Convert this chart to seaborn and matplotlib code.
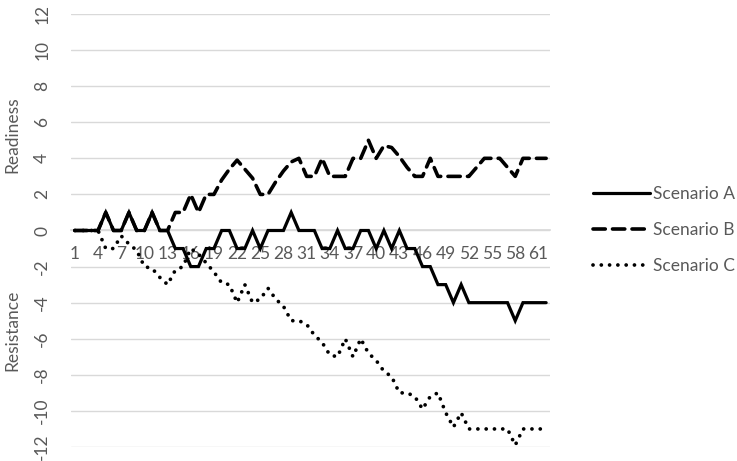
import matplotlib
matplotlib.use("Agg")
import matplotlib.pyplot as plt
import seaborn as sns
import numpy as np
import pandas as pd

# ── Data ──────────────────────────────────────────────────────────────────────
steps = list(range(1, 63))

scenario_a = [0, 0, 0, 0, 1, 0, 0, 1, 0, 0, 1, 0, 0,
              -1, -1, -2, -2, -1, -1, 0, 0, -1, -1, 0, -1,
              0, 0, 0, 1, 0, 0, 0, -1, -1, 0, -1, -1,
              0, 0, -1, 0, -1, 0, -1, -1, -2, -2, -3, -3, -4,
              -3, -4, -4, -4, -4, -4, -4, -5, -4, -4, -4, -4]

scenario_b = [0, 0, 0, 0, 1, 0, 0, 1, 0, 0, 1, 0, 0,
              1, 1, 2, 1, 2, 2, 2.8, 3.4, 3.9, 3.4, 2.9, 2,
              2, 2.7, 3.3, 3.8, 4, 3, 3, 4, 3, 3, 3, 4,
              4, 5, 4, 4.7, 4.6, 4.1, 3.5, 3, 3, 4, 3, 3, 3,
              3, 3, 3.5, 4, 4, 4, 3.5, 3, 4, 4, 4, 4]

scenario_c = [0, 0, 0, 0, -1, -1, -0.3, -0.75, -1.1, -2, -2.1, -2.6, -3,
              -2.2, -2, -1, -1.3, -1.8, -2.3, -2.9, -3, -4, -3, -4, -3.8,
              -3.2, -3.8, -4.2, -5, -5, -5.2, -5.8, -6.2, -6.9, -7, -6, -7,
              -6, -6.8, -7.2, -7.8, -8.1, -9, -9, -9.2, -9.9, -9.2, -9, -10.1, -10.9,
              -10.1, -11, -11, -11, -11, -11, -11, -11.9, -11, -11, -11, -11]

x_ticks = list(range(1, 62, 3))
y_ticks = list(range(-12, 13, 2))

# ── Style ─────────────────────────────────────────────────────────────────────
sns.set_theme(style="white")
plt.rcParams["font.family"] = ["Lato", "DejaVu Sans"]
text_grey = "#595959"
grid_grey = "#D9D9D9"
fs = 12.5

fig = plt.figure(figsize=(7.37, 4.61), dpi=100)
ax = fig.add_axes([71 / 737, 14 / 461, 479 / 737, 433 / 461])

lw = 2.3
sns.lineplot(x=steps, y=scenario_a, ax=ax, color="black", lw=lw,
             solid_joinstyle="miter", label="Scenario A")
sns.lineplot(x=steps, y=scenario_b, ax=ax, color="black", lw=lw + 0.3,
             linestyle=(0, (3.4, 2.0)), dash_capstyle="round",
             label="Scenario B")
sns.lineplot(x=steps, y=scenario_c, ax=ax, color="black", lw=2.7,
             linestyle=(0, (0.01, 2.2)), dash_capstyle="round",
             label="Scenario C")

ax.set_xlim(0.5, 62.5)
ax.set_ylim(-12, 12)
ax.set_yticks(y_ticks)
ax.set_xticks(x_ticks)
ax.set_xticklabels([str(t) for t in x_ticks])
ax.set_yticklabels([str(t) for t in y_ticks], rotation=90, va="center")

for s in ax.spines.values():
    s.set_visible(False)
ax.spines["bottom"].set_visible(True)
ax.spines["bottom"].set_position(("data", 0))
ax.spines["bottom"].set_color(grid_grey)
ax.spines["bottom"].set_zorder(0)

ax.yaxis.grid(True, color=grid_grey, lw=1)
ax.set_axisbelow(True)
ax.tick_params(axis="x", length=0, pad=11, labelsize=fs, colors=text_grey)
ax.tick_params(axis="y", length=0, pad=15, labelsize=fs, colors=text_grey)
ax.set_xlabel("")
ax.set_ylabel("")

fig.text(12 / 737, 1 - 135 / 461, "Readiness", rotation=90, ha="center",
         va="center", fontsize=fs, color=text_grey)
fig.text(12 / 737, 1 - 330 / 461, "Resistance", rotation=90, ha="center",
         va="center", fontsize=fs, color=text_grey)

handles, labels = ax.get_legend_handles_labels()
ax.legend_.remove()
fig.legend(handles, labels, loc="center left",
           bbox_to_anchor=(577 / 737, 1 - 230 / 461), frameon=False,
           fontsize=fs, handlelength=3.3, handletextpad=0.2,
           labelspacing=1.15, labelcolor=text_grey)

fig.savefig("out.png", dpi=100)
